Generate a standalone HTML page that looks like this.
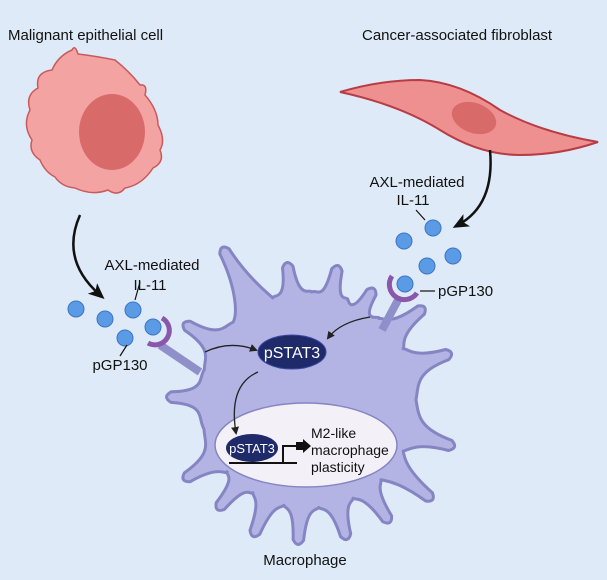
<!DOCTYPE html>
<html><head><meta charset="utf-8"><style>
html,body{margin:0;padding:0;background:#deeaf7;}
svg{display:block;font-family:"Liberation Sans",sans-serif;}
</style></head><body>
<svg id="s" width="607" height="580" viewBox="0 0 607 580" xmlns="http://www.w3.org/2000/svg">
<defs>
<marker id="ah" markerWidth="8" markerHeight="8" refX="6" refY="4" orient="auto" markerUnits="userSpaceOnUse"><path d="M0,0 L8,4 L0,8 z" fill="#222"/></marker>
<marker id="ab" markerWidth="16" markerHeight="14" refX="10" refY="7" orient="auto" markerUnits="userSpaceOnUse"><path d="M0,0 L16,7 L0,14 L4,7 z" fill="#111"/></marker>
</defs>
<rect width="607" height="580" fill="#deeaf7"/>
<text x="8" y="40" font-size="15" fill="#111">Malignant epithelial cell</text>
<text x="362" y="40" font-size="15" fill="#111">Cancer-associated fibroblast</text>
<path d="M72,50 Q75,44 78,54 Q95,56 115,60 Q130,72 140,85 Q148,84 145,95 Q158,110 158,125 Q166,140 160,150 Q165,162 153,168 Q142,185 125,188 Q118,197 108,190 Q92,196 75,188 Q62,187 55,177 Q45,172 40,160 Q28,152 32,140 Q22,125 30,110 Q25,95 38,88 Q35,72 52,70 Q58,56 72,50 Z" fill="#f4a3a3" stroke="#c95a5a" stroke-width="1.5"/>
<ellipse cx="112" cy="132" rx="33" ry="38" fill="#d96a6a"/>
<path d="M340,92 Q380,80 420,80 Q460,82 500,110 Q540,132 598,142 Q560,155 520,155 Q480,155 440,130 Q400,105 340,92 Z" fill="#ee9090" stroke="#b83c44" stroke-width="2"/>
<ellipse cx="474" cy="118" rx="23" ry="15" transform="rotate(20 474 118)" fill="#d96a6a"/>
<path d="M80,215 Q60,260 100,295" fill="none" stroke="#111" stroke-width="2.5" marker-end="url(#ab)"/>
<path d="M490,150 Q495,205 458,225" fill="none" stroke="#111" stroke-width="2.5" marker-end="url(#ab)"/>
<path id="mac" d="" fill="#b3b3e4" stroke="#8585c4" stroke-width="3" stroke-linejoin="round"/>
<line x1="160" y1="345" x2="200" y2="372" stroke="#8f8fc9" stroke-width="8"/>
<line x1="398" y1="300" x2="382" y2="330" stroke="#8f8fc9" stroke-width="8"/>
<g fill="#5b9be6" stroke="#3c74c4" stroke-width="1">
<circle cx="76" cy="309" r="8"/><circle cx="105" cy="319" r="8"/><circle cx="133" cy="310" r="8"/><circle cx="125" cy="338" r="8"/><circle cx="153" cy="327" r="8"/>
<circle cx="433" cy="228" r="8"/><circle cx="404" cy="241" r="8"/><circle cx="453" cy="256" r="8"/><circle cx="427" cy="266" r="8"/><circle cx="405" cy="284" r="8"/>
</g>
<path d="M162,318 A12,12 0 0 1 148,343" fill="none" stroke="#8a58ab" stroke-width="5"/>
<path d="M392,276 A13,13 0 0 0 417,293" fill="none" stroke="#8a58ab" stroke-width="5"/>
<g font-size="15" fill="#111" text-anchor="middle">
<text x="152" y="270">AXL-mediated</text><text x="150" y="290">IL-11</text>
<text x="120" y="370">pGP130</text>
<text x="417" y="187">AXL-mediated</text><text x="413" y="205">IL-11</text>
<text x="305" y="565">Macrophage</text>
</g>
<text x="438" y="296" font-size="15" fill="#111">pGP130</text>
<g stroke="#111" stroke-width="1.2">
<line x1="140" y1="282" x2="135" y2="300"/><line x1="120" y1="356" x2="127" y2="345"/>
<line x1="416" y1="210" x2="425" y2="220"/><line x1="420" y1="291" x2="435" y2="291"/>
</g>
<ellipse cx="292" cy="352" rx="34" ry="17" fill="#1f2a6b" stroke="#3a4aa0"/>
<text x="292" y="358" font-size="16" fill="#fff" text-anchor="middle">pSTAT3</text>
<ellipse cx="306" cy="445" rx="91" ry="42" fill="#f3f0f7" stroke="#8585c4" stroke-width="1.5"/>
<ellipse cx="252" cy="448" rx="26" ry="14" fill="#1f2a6b"/>
<text x="252" y="453" font-size="13" fill="#fff" text-anchor="middle">pSTAT3</text>
<path d="M229,463 L297,463 M283,463 L283,446 L296,446" stroke="#111" stroke-width="2" fill="none"/>
<path d="M296,442 L303,442 L303,439 L311,446 L303,453 L303,450 L296,450 z" fill="#111"/>
<g font-size="14" fill="#111"><text x="311" y="438">M2-like</text><text x="311" y="455">macrophage</text><text x="311" y="472">plasticity</text></g>
<g fill="none" stroke="#222" stroke-width="1.3" marker-end="url(#ah)">
<path d="M205,352 Q230,340 256,350"/>
<path d="M370,317 Q340,322 328,338"/>
<path d="M258,372 Q228,385 236,433"/>
</g>
</svg>
<script>
(function(){
var cx=308,cy=400,base=108;
var tips=[[183,323],[222,247],[287,262],[338,265],[374,288],[425,307],[452,353],[455,447],[433,500],[390,523],[347,540],[298,545],[253,537],[217,510],[183,480],[166,397]];
var sp=tips.map(function(p){var dx=p[0]-cx,dy=p[1]-cy;var a=Math.atan2(dy,dx)*180/Math.PI;return [a,Math.sqrt(dx*dx+dy*dy)];});
sp.sort(function(x,y){return x[0]-y[0];});
function P(a,r){var t=a*Math.PI/180;return (cx+r*Math.cos(t)).toFixed(1)+","+(cy+r*Math.sin(t)).toFixed(1);}
var d="",n=sp.length;
for(var i=0;i<n;i++){
 var a=sp[i][0],r=sp[i][1];
 var pa=sp[(i-1+n)%n][0];if(pa>a)pa-=360;
 var na=sp[(i+1)%n][0];if(na<a)na+=360;
 var v1=(a+pa)/2,v2=(a+na)/2;
 var hw=5.5*180/Math.PI/r;
 var bw=Math.min(10,(na-a)/2-1);
 if(i==0)d+="M"+P(v1,base);
 d+=" C"+P(a-bw,base+4)+" "+P(a-hw*1.7,r-40)+" "+P(a-hw,r-5);
 d+=" Q"+P(a,r+4)+" "+P(a+hw,r-5);
 d+=" C"+P(a+hw*1.7,r-40)+" "+P(a+bw,base+4)+" "+P(v2,base);
}
document.getElementById("mac").setAttribute("d",d+" Z");
})();
</script>
</body></html>
